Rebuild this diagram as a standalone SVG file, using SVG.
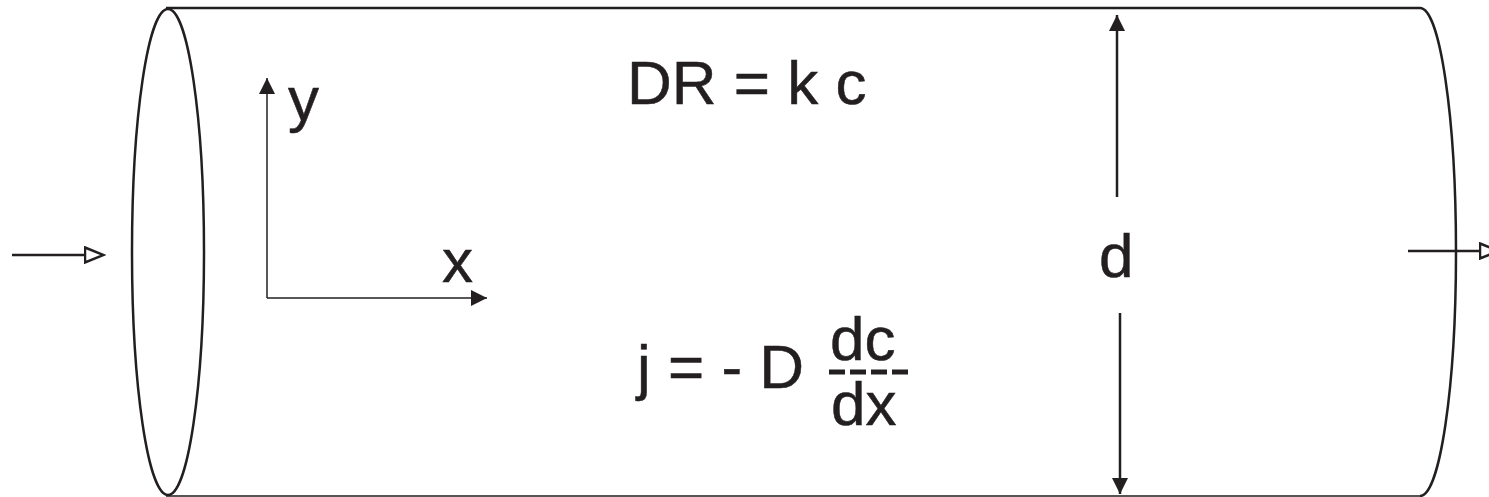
<svg xmlns="http://www.w3.org/2000/svg" width="1489" height="497" viewBox="0 0 1489 497">
<style>
.s{fill:none;stroke:#231f20;stroke-width:2.5}
.ax{fill:none;stroke:#231f20;stroke-width:1.5}
.t{font-family:"Liberation Sans",Arial,sans-serif;font-size:62px;fill:#231f20;stroke:#231f20;stroke-width:0.5}
</style>
<defs>
<marker id="open" viewBox="0 0 22 18" refX="1.5" refY="9" markerWidth="22" markerHeight="18" markerUnits="userSpaceOnUse" orient="auto">
<path d="M1.5,1.5 L20,9 L1.5,16.5 Z" fill="#fff" stroke="#231f20" stroke-width="2.5"/>
</marker>
<marker id="fill" viewBox="0 0 16 16" refX="16" refY="8" markerWidth="16" markerHeight="16" markerUnits="userSpaceOnUse" orient="auto">
<path d="M0,0 L16,8 L0,16 Z" fill="#231f20"/>
</marker>
</defs>
<g id="cylinder">
<line class="s" x1="166" y1="8" x2="1420" y2="8"/>
<line class="s" x1="166" y1="496" x2="1420" y2="496" style="stroke:#555;stroke-width:2"/>
<ellipse class="s" cx="168" cy="252" rx="36" ry="243"/>
<path class="s" d="M1420,8 A36,244 0 0 1 1420,496"/>
</g>
<g id="axes">
<line class="ax" x1="267" y1="298" x2="267" y2="78" marker-end="url(#fill)"/>
<line class="ax" x1="267" y1="298" x2="487" y2="298" marker-end="url(#fill)"/>
<text class="t" x="288" y="120">y</text>
<text class="t" x="442" y="282">x</text>
</g>
<g id="equations">
<text class="t" x="627" y="104">DR = k c</text>
<text class="t" x="637" y="388">j = - D</text>
<text class="t" x="830" y="360">dc</text>
<line x1="829" y1="372" x2="908" y2="372" stroke="#231f20" stroke-width="5" stroke-dasharray="16,5"/>
<text class="t" x="831" y="425">dx</text>
</g>
<g id="dimension">
<line class="s" x1="1117" y1="197" x2="1117" y2="15" marker-end="url(#fill)"/>
<line class="s" x1="1120" y1="313" x2="1120" y2="494" marker-end="url(#fill)"/>
<text class="t" x="1099" y="277">d</text>
</g>
<g id="connectors">
<line class="s" x1="12" y1="255" x2="85" y2="255" marker-end="url(#open)"/>
<line class="s" x1="1408" y1="251" x2="1480" y2="251" marker-end="url(#open)"/>
</g>
</svg>
